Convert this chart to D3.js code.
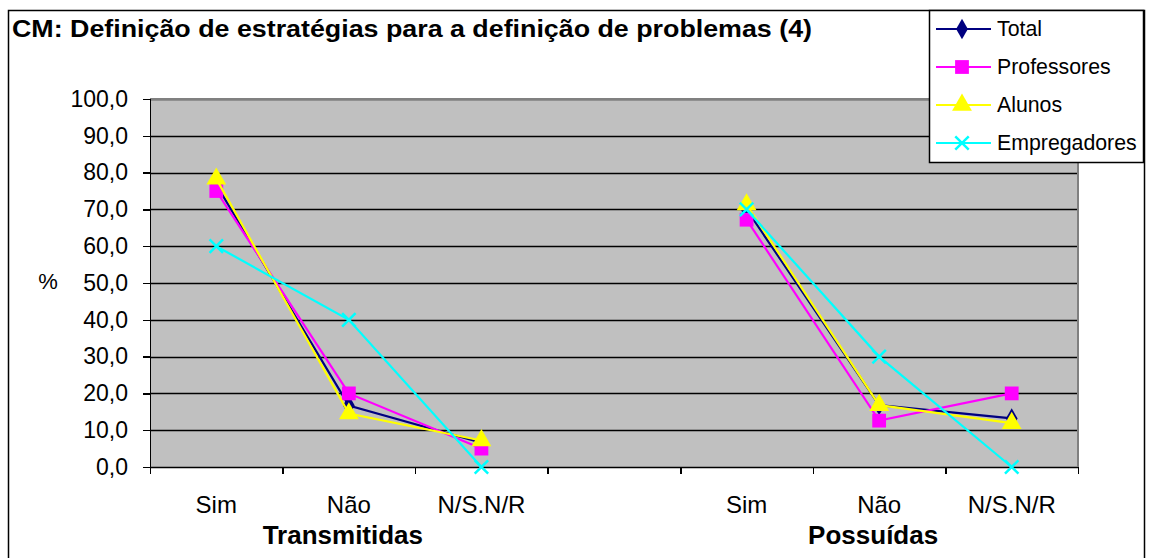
<!DOCTYPE html>
<html>
<head>
<meta charset="utf-8">
<script src="https://cdn.jsdelivr.net/npm/d3@7"></script>
<style>
  body { margin: 0; background: #fff; }
  text { font-family: Arial, "Liberation Sans", sans-serif; fill: #000; }
  .axis path, .axis line { stroke: #000; stroke-width: 1.5px; shape-rendering: crispEdges; }
</style>
</head>
<body>
<div id="chart"></div>
<script>
// chart data
var title = "CM: Definição de estratégias para a definição de problemas (4)";
var categories = ["Sim", "Não", "N/S.N/R", "", "Sim", "Não", "N/S.N/R"];
var groups = ["Transmitidas", "Possuídas"];
var groupIndex = [1, 5];
var seriesNames = ["Total", "Professores", "Alunos", "Empregadores"];
var total = [76.7, 16.7, 6.6, null, 70.0, 16.8, 13.2];
var professores = [75.0, 20.0, 5.0, null, 67.2, 12.6, 20.0];
var alunos = [78.3, 14.5, 7.2, null, 71.3, 16.8, 11.9];
var empregadores = [60.0, 40.0, 0.0, null, 70.0, 30.0, 0.0];
var yTicks = [0, 10, 20, 30, 40, 50, 60, 70, 80, 90, 100];

var seriesValues = [total, professores, alunos, empregadores];
var colours = ["#000080", "#FF00FF", "#FFFF00", "#00FFFF"];
var symbols = [d3.symbolDiamond, d3.symbolSquare, d3.symbolTriangle, d3.symbolX];
var symSize = [120, 190, 170, 120];

var W = 1152, H = 558;
var plot = {left: 150, right: 1078, top: 99, bottom: 467};

var svg = d3.select("#chart").append("svg")
    .attr("width", W)
    .attr("height", H);

// outer border
svg.append("rect")
    .attr("x", 8.5).attr("y", 10.5)
    .attr("width", 1136).attr("height", 560)
    .attr("fill", "#fff").attr("stroke", "#000").attr("stroke-width", 1.5);

// scales
var x = d3.scaleBand()
    .domain(d3.range(categories.length))
    .range([plot.left, plot.right])
    .padding(0);
var xEdge = d3.scaleLinear()
    .domain([0, categories.length])
    .range([plot.left, plot.right]);
var y = d3.scaleLinear()
    .domain([0, 100])
    .range([plot.bottom, plot.top]);

// plot background
svg.append("rect")
    .attr("x", plot.left).attr("y", plot.top)
    .attr("width", plot.right - plot.left)
    .attr("height", plot.bottom - plot.top)
    .attr("fill", "#C0C0C0");

// gridlines
svg.append("g")
    .selectAll("line")
    .data(yTicks)
    .enter()
    .append("line")
    .attr("x1", plot.left).attr("x2", plot.right)
    .attr("y1", d => Math.round(y(d)) + 0.5)
    .attr("y2", d => Math.round(y(d)) + 0.5)
    .attr("stroke", "#000")
    .attr("stroke-width", 1.5);

// plot border (grey)
svg.append("path")
    .attr("d", "M" + plot.left + "," + plot.top + "H" + plot.right + "V" + plot.bottom)
    .attr("fill", "none")
    .attr("stroke", "#808080")
    .attr("stroke-width", 2);

// y axis
svg.append("g")
    .attr("class", "axis")
    .attr("transform", "translate(" + plot.left + ",0)")
    .call(d3.axisLeft(y)
        .tickValues(yTicks)
        .tickSize(7)
        .tickPadding(15)
        .tickFormat(d => d.toFixed(1).replace(".", ",")))
    .call(g => g.selectAll("text").style("font-size", "23px"));

// x axis (ticks at category edges)
svg.append("g")
    .attr("class", "axis")
    .attr("transform", "translate(0," + plot.bottom + ")")
    .call(d3.axisBottom(xEdge)
        .tickValues(d3.range(categories.length + 1))
        .tickSize(7)
        .tickSizeOuter(0)
        .tickFormat(""));

// category labels
svg.append("g")
    .selectAll("text")
    .data(categories)
    .enter()
    .append("text")
    .attr("x", (d, i) => x(i) + x.bandwidth() / 2)
    .attr("y", 513)
    .attr("text-anchor", "middle")
    .style("font-size", "24px")
    .text(d => d);

// group labels
svg.append("g")
    .selectAll("text")
    .data(groups)
    .enter()
    .append("text")
    .attr("x", (d, i) => x(groupIndex[i]) + x.bandwidth() / 2 - 6)
    .attr("y", 544)
    .attr("text-anchor", "middle")
    .style("font-size", "26px")
    .style("font-weight", "bold")
    .text(d => d);

// y axis title
svg.append("text")
    .attr("x", 48)
    .attr("y", 289)
    .attr("text-anchor", "middle")
    .style("font-size", "22px")
    .text("%");

// title (stretched a bit wider, like the original)
svg.append("text")
    .attr("x", 12)
    .attr("y", 37)
    .attr("textLength", 800)
    .attr("lengthAdjust", "spacingAndGlyphs")
    .style("font-size", "23px")
    .style("font-weight", "bold")
    .text(title);

// series lines + markers
var line = d3.line()
    .defined(d => d != null)
    .x((d, i) => x(i) + x.bandwidth() / 2)
    .y(d => y(d));

seriesValues.forEach(function(vals, s) {
    var g = svg.append("g");
    g.append("path")
        .datum(vals)
        .attr("d", line)
        .attr("fill", "none")
        .attr("stroke", colours[s])
        .attr("stroke-width", 2.2);
    g.selectAll("path.mk")
        .data(vals.map((v, i) => ({v: v, i: i})).filter(d => d.v != null))
        .enter()
        .append("path")
        .attr("class", "mk")
        .attr("transform", d => "translate(" + (x(d.i) + x.bandwidth() / 2) + "," + y(d.v) + ")")
        .attr("d", d3.symbol().type(symbols[s]).size(symSize[s]))
        .attr("fill", s == 3 ? "none" : colours[s])
        .attr("stroke", s == 3 ? colours[s] : "none")
        .attr("stroke-width", 2.5);
});

// legend
var legend = svg.append("g");
legend.append("rect")
    .attr("x", 929.5).attr("y", 10.5)
    .attr("width", 214).attr("height", 152)
    .attr("fill", "#fff").attr("stroke", "#000").attr("stroke-width", 1.5);

var rows = legend.selectAll("g.row")
    .data(seriesNames)
    .enter()
    .append("g")
    .attr("class", "row")
    .attr("transform", (d, i) => "translate(0," + (29 + i * 38) + ")");
rows.append("line")
    .attr("x1", 936).attr("x2", 991)
    .attr("stroke", (d, i) => colours[i])
    .attr("stroke-width", 2.2);
rows.append("path")
    .attr("transform", "translate(962,0)")
    .attr("d", (d, i) => d3.symbol().type(symbols[i]).size(symSize[i])())
    .attr("fill", (d, i) => i == 3 ? "none" : colours[i])
    .attr("stroke", (d, i) => i == 3 ? colours[i] : "none")
    .attr("stroke-width", 2.5);
rows.append("text")
    .attr("x", 997)
    .attr("y", 7)
    .style("font-size", "21.3px")
    .text(d => d);
</script>
</body>
</html>
